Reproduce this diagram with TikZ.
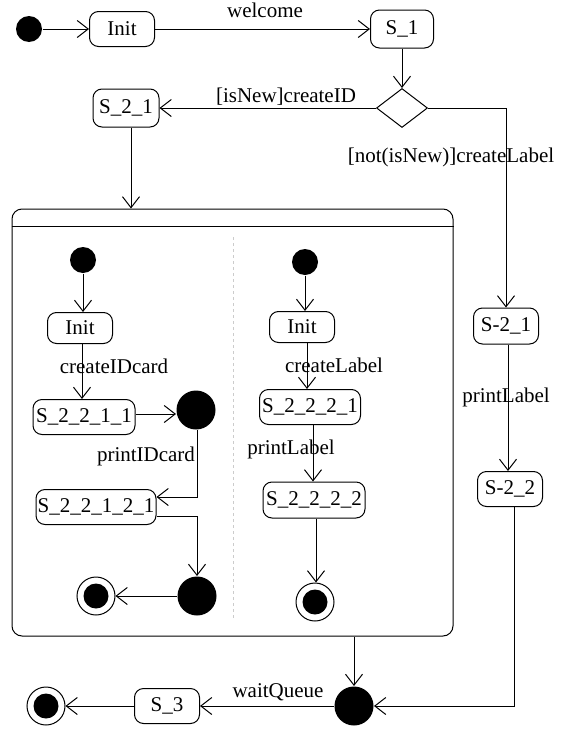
\documentclass[tikz,border=0pt]{standalone}
\usepackage{fontspec}
\setmainfont{Liberation Serif}
\usetikzlibrary{arrows.meta,shapes.geometric}
\begin{document}
\begin{tikzpicture}[x=1pt,y=-1pt,
  line width=1pt,
  >={Straight Barb[length=11pt,width=17pt]},
  every node/.style={font=\fontsize{21}{24}\selectfont},
  st/.style={draw, rounded corners=9pt, inner xsep=1pt, inner ysep=0pt, minimum height=35pt},
  startdot/.style={circle, fill=black, inner sep=0pt, minimum size=26pt},
  bigdot/.style={circle, fill=black, inner sep=0pt, minimum size=39pt},
  final/.style={circle, draw, inner sep=0pt, minimum size=38pt,
    path picture={\fill (path picture bounding box.center) circle (12.5pt);}},
  choice/.style={diamond, draw, inner sep=0pt, minimum width=51pt, minimum height=39pt},
  lbl/.style={inner sep=0pt}
]
\useasboundingbox (0,0) rectangle (566,731);

% top level states
\node[startdot] (i0) at (29,29) {};
\node[st, minimum width=65pt] (init0) at (122,29) {Init};
\node[st, minimum width=63pt, minimum height=38pt] (s1) at (402,29) {S\_1};
\node[choice] (d) at (402,108) {};
\node[st, minimum width=66pt, minimum height=38pt] (s21) at (126,108) {S\_2\_1};
\node[st, minimum width=65pt, minimum height=36pt] (r1) at (506,326) {S-2\_1};
\node[st, minimum width=65pt] (r2) at (510,489) {S-2\_2};

% composite state
\node[draw, rounded corners=10pt, minimum width=441pt, minimum height=427pt, inner sep=0pt]
  (comp) at (232.5,422.5) {};
\draw ([yshift=-18pt]comp.north west) -- ([yshift=-18pt]comp.north east);
\draw[gray!40, dashed, line width=0.8pt] (233,237) -- (233,618);

% left region
\node[startdot] (dl) at (83,260) {};
\node[st, minimum width=65pt, minimum height=31pt] (il) at (80,328) {Init};
\node[st, minimum width=102pt] (a1) at (84,417) {S\_2\_2\_1\_1};
\node[bigdot] (b1) at (196,410) {};
\node[st, minimum width=120pt] (a2) at (96,507) {S\_2\_2\_1\_2\_1};
\node[bigdot] (b2) at (197,596) {};
\node[final] (fl) at (96,596) {};

% right region
\node[startdot] (dr) at (305,262) {};
\node[st, minimum width=65pt, minimum height=31pt] (ir) at (302,327) {Init};
\node[st, minimum width=101pt] (c1) at (310,407) {S\_2\_2\_2\_1};
\node[st, minimum width=102pt, minimum height=36pt] (c2) at (314,500) {S\_2\_2\_2\_2};
\node[final] (fr) at (315,602) {};

% bottom
\node[bigdot] (j) at (354,706) {};
\node[st, minimum width=65pt] (s3) at (167,706) {S\_3};
\node[final] (f0) at (46,706) {};

% transition labels
\node[lbl] (lw) at (265,10) {welcome};
\node[lbl] (ln) at (286,97) {[isNew]createID};
\node[lbl] (lo) at (451,157) {[not(isNew)]createLabel};
\node[lbl] (lc) at (114,366) {createIDcard};
\node[lbl] (lp) at (146,456) {printIDcard};
\node[lbl] (lcl) at (334,365) {createLabel};
\node[lbl] (lpl) at (291,449) {printLabel};
\node[lbl] (lpr) at (506,397) {printLabel};
\node[lbl] (lq) at (278,692) {waitQueue};

% transitions
\draw[->] (i0) -- (init0);
\draw[->] (init0) -- (s1);
\draw[->] (s1.south) -- (s1.south |- d.north);
\draw[->] (d) -- (s21);
\draw[->] (d.east) -| (r1.north);
\draw[->] ([xshift=5pt]s21.south) -- ([xshift=5pt]s21.south |- comp.north);
\draw[->] ([xshift=2pt]r1.south) -- ([xshift=2pt]r1.south |- r2.north);
\draw[->] ([xshift=4pt]r2.south) |- (j.east);
\draw[->] (j |- comp.south) -- (j.north);
\draw[->] (j) -- (s3);
\draw[->] (s3) -- (f0);

\draw[->] (dl) -- (dl |- il.north);
\draw[->] ([xshift=2pt]il.south) -- ([xshift=2pt]il.south |- a1.north);
\draw[->] ([yshift=3pt]a1.east) -- ([yshift=3pt]a1.east -| b1.west);
\draw[->] ([xshift=1pt]b1.south) |- ([yshift=10pt]a2.east);
\draw[->] ([yshift=-9pt]a2.east) -| (b2.north);
\draw[->] (b2) -- (fl);

\draw[->] (dr) -- (dr |- ir.north);
\draw[->] ([xshift=5pt]ir.south) -- ([xshift=5pt]ir.south |- c1.north);
\draw[->] ([xshift=3pt]c1.south) -- ([xshift=3pt]c1.south |- c2.north);
\draw[->] ([xshift=2pt]c2.south) -- ([xshift=2pt]c2.south |- fr.north);
\end{tikzpicture}
\end{document}
